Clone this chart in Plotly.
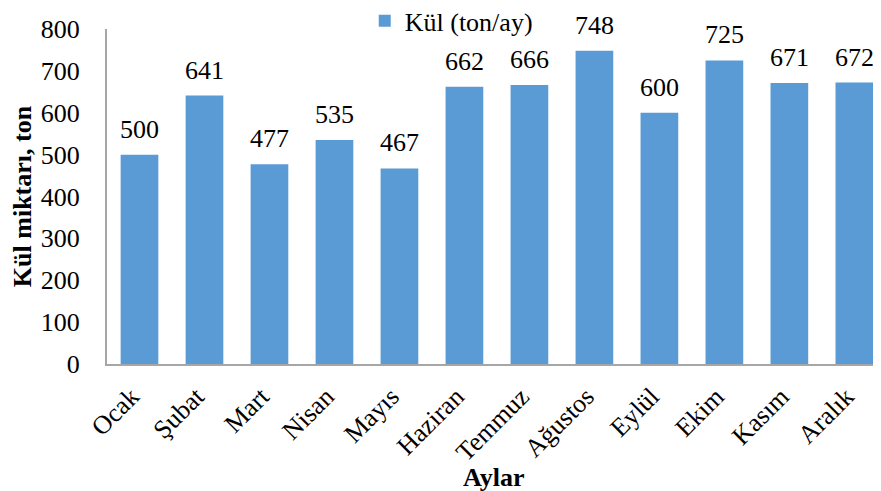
import plotly.graph_objects as go

# 월별 데이터
aylar = ["Ocak", "Şubat", "Mart", "Nisan", "Mayıs", "Haziran",
         "Temmuz", "Ağustos", "Eylül", "Ekim", "Kasım", "Aralık"]
kul = [500, 641, 477, 535, 467, 662, 666, 748, 600, 725, 671, 672]

FONT_FAMILY = "Liberation Serif, Times New Roman, serif"

fig = go.Figure()
fig.add_trace(go.Bar(
    x=aylar,
    y=kul,
    name="Kül (ton/ay)",
    marker=dict(color="#5B9BD5", line=dict(width=0)),
))

# 막대 위 값 라벨
for ay, v in zip(aylar, kul):
    fig.add_annotation(
        x=ay, y=v, text=str(v), showarrow=False,
        yanchor="bottom", yshift=9,
        font=dict(size=26, color="black", family=FONT_FAMILY),
    )

# x축 제목 (아래쪽에 고정)
fig.add_annotation(
    x=0.5, y=-0.34, xref="paper", yref="paper",
    text="<b>Aylar</b>", showarrow=False, yanchor="middle",
    font=dict(size=26, color="black", family=FONT_FAMILY),
)

# 페이지 body 여백(8px)을 고려한 크기
fig.update_layout(
    width=873, height=483,
    margin=dict(l=99, r=0, t=21, b=127, autoexpand=False),
    paper_bgcolor="white", plot_bgcolor="white",
    font=dict(family=FONT_FAMILY, size=26, color="black"),
    bargap=0.42,
    showlegend=True,
    legend=dict(
        orientation="h", x=0.333, y=1.024, xanchor="left", yanchor="middle",
        font=dict(size=26), bgcolor="rgba(0,0,0,0)",
        itemwidth=30,
    ),
    xaxis=dict(
        range=[-0.5, 11.41],
        tickangle=-45,
        showline=True, linecolor="#A6A6A6", linewidth=2,
        showgrid=False, ticks="",
        tickfont=dict(size=26),
        ticklabelshift=-8, ticklabelstandoff=5,
    ),
    yaxis=dict(
        range=[0, 800], dtick=100,
        showline=True, linecolor="#A6A6A6", linewidth=2,
        showgrid=False, zeroline=False, ticks="",
        tickfont=dict(size=26),
        ticklabelstandoff=20,
        title=dict(text="<b>Kül miktarı, ton</b>", font=dict(size=26), standoff=4),
    ),
)

fig.write_html("out.html")
